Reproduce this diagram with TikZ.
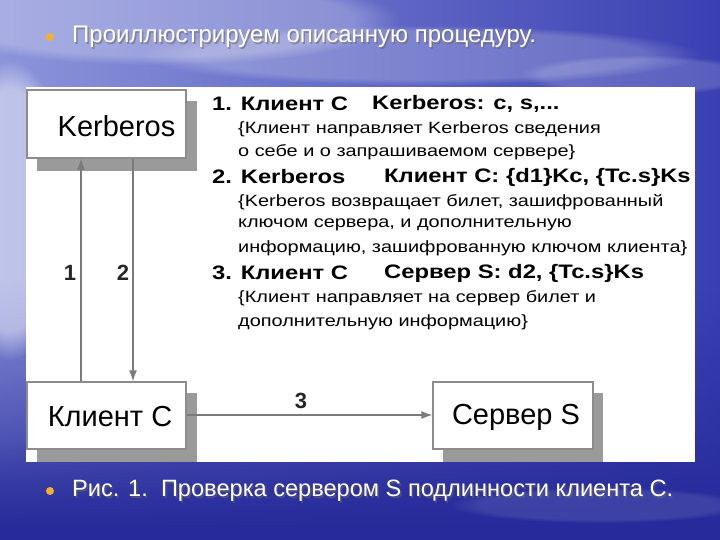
\documentclass[tikz,border=0pt]{standalone}
\usepackage{fontspec}
\setmainfont{Liberation Sans}
\newfontfamily\wfont[FakeStretch=1.22]{Liberation Sans}
\newfontfamily\tfont{Liberation Sans}
\usetikzlibrary{arrows.meta,shadings,fadings}
\definecolor{skyleft}{HTML}{8C94DA}
\definecolor{skyright}{HTML}{3A40B2}
\definecolor{skydark}{HTML}{262A9A}
\definecolor{shadowgray}{HTML}{9A9A9A}
\definecolor{edgegray}{HTML}{8C8C8C}
\definecolor{linegray}{HTML}{7A7A7A}
\definecolor{bulletc}{HTML}{F2B030}
\tikzset{
  box/.style={draw=edgegray,line width=1.2pt,fill=white,inner sep=0pt},
  boxshadow/.style={fill=shadowgray,draw=none},
  boxtext/.style={font=\tfont\fontsize{29}{32}\selectfont,text=black,inner sep=0pt},
  flow/.style={draw=linegray,line width=1.4pt,-{Latex[length=11pt,width=8pt]}},
  numlbl/.style={font=\tfont\bfseries\fontsize{22}{24}\selectfont,text=black!85,inner sep=0pt},
  bold/.style={font=\wfont\bfseries\fontsize{19.5}{21}\selectfont,anchor=west,inner sep=0pt},
  plain/.style={font=\wfont\fontsize{16.3}{19}\selectfont,anchor=west,inner sep=0pt},
  slide/.style={font=\tfont\fontsize{24}{27}\selectfont,text=white,anchor=west,inner sep=0pt},
  slideshadow/.style={font=\tfont\fontsize{24}{27}\selectfont,text=black!60,anchor=west,inner sep=0pt,opacity=0.55},
  slidec/.style={font=\tfont\fontsize{23.6}{27}\selectfont,text=white,anchor=west,inner sep=0pt},
  slidecshadow/.style={font=\tfont\fontsize{23.6}{27}\selectfont,text=black!60,anchor=west,inner sep=0pt,opacity=0.55},
  bulletdot/.style={circle,fill=bulletc,minimum size=8pt,inner sep=0pt},
  cloud/.style={fill=white,path fading=circle with fuzzy edge 20 percent}
}
\begin{document}
\begin{tikzpicture}[x=1pt,y=-1pt]
\useasboundingbox (0,0) rectangle (720,540);
% background
\shade[left color=skyleft,right color=skyright] (0,0) rectangle (720,540);
\fill[skydark,path fading=north] (0,280) rectangle (720,540);
\fill[skydark,opacity=0.6,path fading=north] (0,440) rectangle (720,540);
\fill[cloud,opacity=0.45] (10,210) ellipse (60 and 150);
\fill[cloud,opacity=0.25] (160,20) ellipse (240 and 45);
\fill[cloud,opacity=0.20] (420,55) ellipse (280 and 30);
\fill[cloud,opacity=0.16] (640,75) ellipse (120 and 20);
\fill[cloud,opacity=0.10] (600,505) ellipse (150 and 18);
% title
\node[bulletdot] (b1) at (50,37) {};
\node[slideshadow] (t1s) at (73.5,38.5) {Проиллюстрируем описанную процедуру.};
\node[slide] (t1) at (72,37) {Проиллюстрируем описанную процедуру.};
% panel
\fill[white] (26,87) rectangle (695,462);
% shadows
\fill[boxshadow] (37,101) rectangle (197,171);
\fill[boxshadow] (37,393) rectangle (197,462);
\fill[boxshadow] (443,393) rectangle (603,462);
% boxes
\node[box,minimum width=159pt,minimum height=68pt] (kerb) at (106.5,124) {};
\node[boxtext] (kerbt) at (116.5,126) {Kerberos};
\node[box,minimum width=159pt,minimum height=67pt] (client) at (106.5,415.5) {};
\node[boxtext] (clientt) at (110,417) {Клиент С};
\node[box,minimum width=160pt,minimum height=67pt] (server) at (513,415.5) {};
\node[boxtext] (servert) at (516,417) {Сервер S};
% connectors
\draw[flow] (client.north -| 81,0) -- (kerb.south -| 81,0);
\draw[flow] (kerb.south -| 133,0) -- (client.north -| 133,0);
\draw[flow] (client.east |- 0,415) -- (server.west |- 0,415);
\node[numlbl] (n1) at (70,273) {1};
\node[numlbl] (n2) at (123,273) {2};
\node[numlbl] (n3) at (301,401) {3};
% text
\node[bold] (l1a) at (212,104) {1. Клиент С};
\node[bold] (l1b) at (372,104) {Kerberos: c, s,...};
\node[plain] (l1c) at (238,129) {\{Клиент направляет Kerberos сведения};
\node[plain] (l1d) at (238,152) {о себе и о запрашиваемом сервере\}};
\node[bold] (l2a) at (212,177) {2. Kerberos};
\node[bold] (l2b) at (384,177) {Клиент С: \{d1\}Kc, \{Tc.s\}Ks};
\node[plain] (l2c) at (238,202) {\{Kerberos возвращает билет, зашифрованный};
\node[plain] (l2d) at (238,225) {ключом сервера, и дополнительную};
\node[plain] (l2e) at (238,248) {информацию, зашифрованную ключом клиента\}};
\node[bold] (l3a) at (212,273) {3. Клиент С};
\node[bold] (l3b) at (384,273) {Сервер S: d2, \{Tc.s\}Ks};
\node[plain] (l3c) at (238,298) {\{Клиент направляет на сервер билет и};
\node[plain] (l3d) at (238,322) {дополнительную информацию\}};
% caption
\node[bulletdot] (b2) at (50,491) {};
\node[slidecshadow] (t2s) at (73.5,492.5) {Рис. 1.\ \ Проверка сервером S подлинности клиента С.};
\node[slidec] (t2) at (72,491) {Рис. 1.\ \ Проверка сервером S подлинности клиента С.};
\end{tikzpicture}
\end{document}
